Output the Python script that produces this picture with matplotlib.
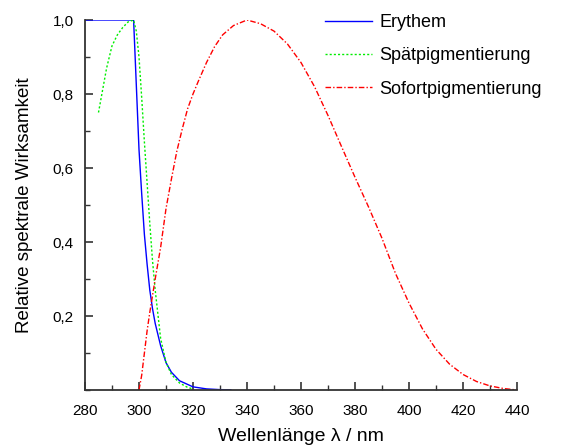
import matplotlib
matplotlib.use('Agg')
import matplotlib.pyplot as plt
from matplotlib.ticker import MultipleLocator, FuncFormatter

plt.rcParams['font.family'] = ['Liberation Sans', 'DejaVu Sans']

# Erythem
wl_ery = [280, 298, 300, 301, 302, 303, 304, 305, 306, 308, 310, 312, 315, 320, 325, 330, 334]
ery = [1.0, 1.0, 0.65, 0.53, 0.42, 0.34, 0.27, 0.22, 0.18, 0.12, 0.074, 0.048, 0.025, 0.0085, 0.003, 0.001, 0.0006]

# Spaetpigmentierung
wl_spa = [285, 288, 290, 292, 294, 296, 298, 299, 300, 301, 302, 303, 304, 305, 306, 308, 310, 312, 315, 318, 320]
spa = [0.75, 0.87, 0.93, 0.96, 0.98, 0.995, 1.0, 0.97, 0.9, 0.79, 0.67, 0.56, 0.45, 0.35, 0.27, 0.14, 0.075, 0.042, 0.019, 0.007, 0.003]

# Sofortpigmentierung
wl_sof = [300, 301, 302, 303, 304, 305, 306, 308, 310, 312, 314, 316, 318, 320, 322, 325, 328, 331, 335, 340,
          345, 350, 355, 360, 365, 370, 375, 380, 385, 390, 395, 400, 405, 410, 415, 420, 425, 430, 435, 440]
sof = [0.0, 0.04, 0.1, 0.16, 0.21, 0.255, 0.3, 0.385, 0.49, 0.57, 0.645, 0.705, 0.76, 0.8, 0.835, 0.885, 0.928, 0.96, 0.985, 1.0,
       0.99, 0.97, 0.935, 0.885, 0.82, 0.742, 0.658, 0.575, 0.495, 0.41, 0.315, 0.235, 0.165, 0.11, 0.07, 0.042, 0.023, 0.011, 0.004, 0.0]

fig = plt.figure(figsize=(5.66, 4.48), dpi=100)
ax = fig.add_axes([85 / 566, 58 / 448, 432 / 566, 370 / 448])

ax.plot(wl_ery, ery, color='#0000ff', lw=1.0, label='Erythem')
ax.plot(wl_spa, spa, color='#00ee00', lw=1.0, dashes=(1.5, 1.5), label='Spätpigmentierung')
ax.plot(wl_sof, sof, color='#ff0000', lw=1.0, dashes=(4, 1.5, 1, 1.5), label='Sofortpigmentierung')

ax.set_xlim(280, 440)
ax.set_ylim(0, 1.0)
ax.spines['top'].set_visible(False)
ax.spines['right'].set_visible(False)
for s in ['left', 'bottom']:
    ax.spines[s].set_linewidth(1.3)
    ax.spines[s].set_color('#333333')

ax.xaxis.set_major_locator(MultipleLocator(20))
ax.xaxis.set_minor_locator(MultipleLocator(10))
ax.set_yticks([0.2, 0.4, 0.6, 0.8, 1.0])
ax.yaxis.set_minor_locator(MultipleLocator(0.1))
ax.yaxis.set_major_formatter(FuncFormatter(lambda v, p: f'{v:.1f}'.replace('.', ',')))
ax.tick_params(which='major', direction='in', length=6, width=1.2, color='#333333', labelsize=11, pad=8)
ax.tick_params(axis='x', which='major', pad=10)
ax.tick_params(which='minor', direction='in', length=3.5, width=1.0, color='#333333')

ax.set_xlabel('Wellenlänge λ / nm', fontsize=14, labelpad=7)
ax.set_ylabel('Relative spektrale Wirksamkeit', fontsize=13.5, labelpad=14)

fig.legend(loc='upper left', bbox_to_anchor=(325 / 566, 1 - 14 / 448), frameon=False,
           fontsize=13, handlelength=2.6, handletextpad=0.4, labelspacing=0.9,
           borderpad=0, borderaxespad=0)

fig.savefig('out.png', dpi=100)
